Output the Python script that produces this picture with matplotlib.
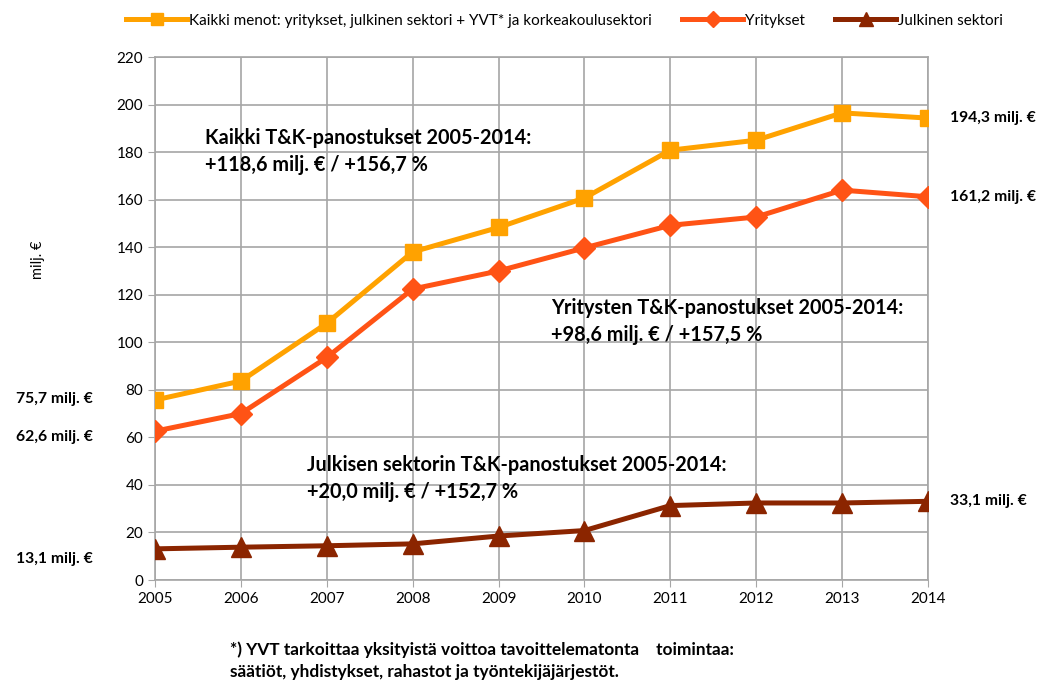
import matplotlib
matplotlib.use("Agg")
import matplotlib.pyplot as plt

plt.rcParams["font.family"] = ["Lato", "DejaVu Sans"]

# ── Data (milj. €) ─────────────────────────────────────────────
years = [2005, 2006, 2007, 2008, 2009, 2010, 2011, 2012, 2013, 2014]
kaikki = [75.7, 83.7, 108.0, 138.0, 148.3, 160.7, 180.8, 185.0, 196.5, 194.3]
yritykset = [62.6, 70.0, 93.6, 122.4, 130.0, 139.7, 149.2, 152.7, 164.0, 161.2]
julkinen = [13.1, 13.8, 14.4, 15.2, 18.5, 20.8, 31.3, 32.4, 32.4, 33.1]

labels = ["Kaikki menot: yritykset, julkinen sektori + YVT* ja korkeakoulusektori",
          "Yritykset", "Julkinen sektori"]
colors = ["#FFA200", "#FF5315", "#8B2500"]


def milj(v):
    return f"{v:.1f}".replace(".", ",") + " milj. €"


fig = plt.figure(figsize=(10.51, 6.82), dpi=100)
ax = fig.add_axes([155 / 1051, 102 / 682, 773 / 1051, 523 / 682])

ax.plot(years, kaikki, color=colors[0], lw=3.6, marker="s", ms=12, label=labels[0], zorder=3)
ax.plot(years, yritykset, color=colors[1], lw=3.6, marker="D", ms=11, label=labels[1], zorder=4)
ax.plot(years, julkinen, color=colors[2], lw=3.6, marker="^", ms=14, label=labels[2], zorder=5)

ax.set_xlim(2005, 2014)
ax.set_ylim(0, 220)
ax.set_xticks(years)
ax.set_yticks(range(0, 221, 20))
ax.grid(True, color="#A6A6A6", lw=1.2)
ax.set_axisbelow(True)
for s in ax.spines.values():
    s.set_color("#A6A6A6")
    s.set_linewidth(1.2)
ax.tick_params(colors="#A6A6A6", labelcolor="black", labelsize=11, length=5)
ax.set_ylabel("milj. €", fontsize=10.5)
ax.yaxis.set_label_coords(-0.142, 0.612)

# ── Annotations ──────────────────────────────────────────────
bold = dict(fontweight="bold", fontsize=14.3, color="black", va="center")
ax.text(2005.58, 185.8, "Kaikki T&K-panostukset 2005-2014:", **bold)
ax.text(2005.58, 174.5, "+118,6 milj. € / +156,7 %", **bold)
ax.text(2009.61, 114.3, "Yritysten T&K-panostukset 2005-2014:", **bold)
ax.text(2009.61, 103.0, "+98,6 milj. € / +157,5 %", **bold)
ax.text(2006.77, 48.5, "Julkisen sektorin T&K-panostukset 2005-2014:", **bold)
ax.text(2006.77, 37.2, "+20,0 milj. € / +152,7 %", **bold)

vl = dict(fontweight="bold", fontsize=11.3, color="black", va="center")
ax.text(2014.26, kaikki[-1], milj(kaikki[-1]), ha="left", **vl)
ax.text(2014.26, yritykset[-1], milj(yritykset[-1]), ha="left", **vl)
ax.text(2014.26, julkinen[-1], milj(julkinen[-1]), ha="left", **vl)
ax.text(2004.28, 76, milj(kaikki[0]), ha="right", **vl)
ax.text(2004.28, 60, milj(yritykset[0]), ha="right", **vl)
ax.text(2004.28, 9, milj(julkinen[0]), ha="right", **vl)

fig.legend(loc="upper center", bbox_to_anchor=(0.537, 1.0), ncol=3, frameon=False,
           fontsize=11, handlelength=4.0, handletextpad=0.1, columnspacing=2.0,
           markerscale=0.75)

fig.text(230 / 1051, 1 - 650 / 682, "*) YVT tarkoittaa yksityistä voittoa tavoittelematonta    toimintaa:",
         fontsize=12.4, fontweight="bold", va="center")
fig.text(230 / 1051, 1 - 672 / 682, "säätiöt, yhdistykset, rahastot ja työntekijäjärjestöt.",
         fontsize=12.4, fontweight="bold", va="center")

fig.savefig("out.png", dpi=100)
